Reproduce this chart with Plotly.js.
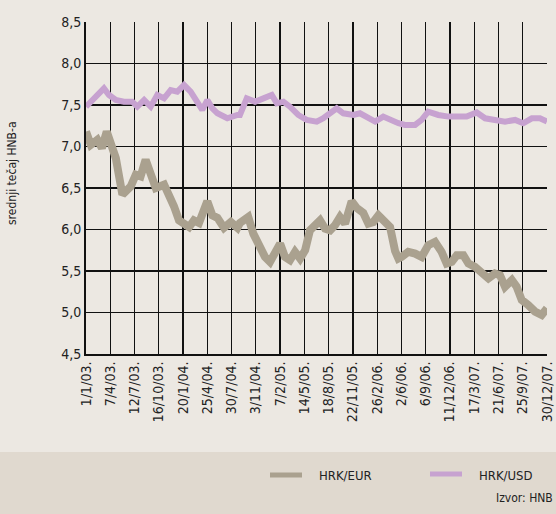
<!DOCTYPE html>
<html>
<head>
<meta charset="utf-8">
<script src="https://cdn.plot.ly/plotly-3.0.1.min.js"></script>
<style>
html,body{margin:0;padding:0;background:#ece8e2;}
#chart{width:556px;height:514px;}
</style>
</head>
<body>
<div id="chart"></div>
<script>
// day offsets from 1/1/2003
var eurDays = [0,19,45,63,82,98,118,131,144,157,177,197,216,236,256,276,309,328,348,368,388,408,427,447,480,500,520,546,573,599,609,642,662,689,708,728,748,768,787,807,827,847,867,886,906,926,946,966,985,1005,1025,1051,1071,1097,1117,1137,1157,1176,1203,1223,1236,1249,1275,1302,1328,1354,1381,1407,1427,1447,1467,1493,1513,1539,1566,1592,1618,1638,1658,1685,1704,1724,1750,1777,1803,1824];
var eurValues = [7.18,7.02,7.08,6.98,7.18,7.06,6.86,6.64,6.42,6.46,6.52,6.66,6.64,6.84,6.64,6.50,6.54,6.42,6.28,6.11,6.07,6.03,6.11,6.08,6.34,6.17,6.14,6.02,6.09,6.02,6.08,6.15,5.95,5.79,5.67,5.61,5.73,5.83,5.67,5.63,5.73,5.65,5.75,5.99,6.05,6.11,6.01,5.99,6.05,6.15,6.07,6.34,6.26,6.20,6.07,6.09,6.17,6.11,6.03,5.74,5.65,5.67,5.73,5.71,5.67,5.81,5.85,5.73,5.59,5.61,5.69,5.69,5.59,5.55,5.49,5.41,5.47,5.45,5.31,5.39,5.31,5.15,5.09,5.01,4.97,5.05];
var usdDays = [0,32,71,91,118,150,183,203,230,256,282,309,335,361,388,414,440,460,480,500,520,559,599,609,636,669,702,735,755,781,807,840,873,913,939,966,992,1018,1058,1084,1111,1144,1176,1203,1236,1262,1302,1328,1354,1394,1434,1473,1506,1546,1579,1618,1658,1698,1730,1764,1796,1824];
var usdValues = [7.48,7.58,7.70,7.62,7.56,7.54,7.54,7.48,7.56,7.48,7.62,7.58,7.68,7.66,7.74,7.66,7.52,7.44,7.56,7.46,7.40,7.34,7.38,7.38,7.58,7.54,7.58,7.62,7.52,7.54,7.48,7.38,7.32,7.30,7.34,7.40,7.46,7.40,7.38,7.40,7.36,7.30,7.36,7.32,7.28,7.26,7.26,7.32,7.42,7.38,7.36,7.36,7.36,7.41,7.34,7.32,7.30,7.32,7.28,7.34,7.34,7.30];
var tickDays = [0,96,192,288,384,480,576,672,768,864,960,1056,1152,1248,1344,1440,1536,1632,1728,1824];
var tickLabels = ['1/1/03.','7/4/03.','12/7/03.','16/10/03.','20/1/04.','25/4/04.','30/7/04.','3/11/04.','7/2/05.','14/5/05.','18/8/05.','22/11/05.','26/2/06.','2/6/06.','6/9/06.','11/12/06.','17/3/07.','21/6/07.','25/9/07.','30/12/07.'];
var seriesNames = ['HRK/EUR','HRK/USD'];
var yTicks = [4.5,5.0,5.5,6.0,6.5,7.0,7.5,8.0,8.5];

var FONT = "DejaVu Sans Condensed, DejaVu Sans, sans-serif";
var eurColor = '#aaa18f', usdColor = '#c7a2d0';

var traces = [
  {x: usdDays, y: usdValues, name: seriesNames[1], mode:'lines', line:{color:usdColor, width:6}, showlegend:false, hoverinfo:'skip'},
  {x: eurDays, y: eurValues, name: seriesNames[0], mode:'lines', line:{color:eurColor, width:8}, showlegend:false, hoverinfo:'skip'}
];

var W = 461, H = 332; // plot size in px
function px(dx){return dx/W;}
function py(dy){return dy/H;}

var layout = {
  width:556, height:514,
  margin:{l:86, r:9, t:22, b:160},
  paper_bgcolor:'#ece8e2', plot_bgcolor:'#ece8e2',
  separators:', ',
  font:{family:FONT, size:14, color:'#222'},
  xaxis:{range:[0,1824], tickvals:tickDays, ticktext:tickLabels, tickangle:-90,
         showgrid:true, gridcolor:'#111', gridwidth:1.3, zeroline:false,
         showline:true, linecolor:'#111', linewidth:2, ticks:'', fixedrange:true,
         tickfont:{family:FONT, size:14, color:'#222'}},
  yaxis:{range:[4.5,8.5], tickvals:yTicks, tickformat:'.1f',
         showgrid:true, gridcolor:'#111', gridwidth:1.3, zeroline:false,
         showline:true, linecolor:'#111', linewidth:2, ticks:'', fixedrange:true,
         tickfont:{family:FONT, size:14, color:'#222'}},
  shapes:[
    {type:'rect', xref:'paper', yref:'paper', x0:px(-86), x1:1+px(9), y0:py(-160), y1:py(-98), fillcolor:'#e0d9cf', line:{width:0}, layer:'below'},
    {type:'line', xref:'paper', yref:'paper', x0:px(270-86), x1:px(302-86), y0:py(354-475), y1:py(354-475), line:{color:eurColor, width:5}},
    {type:'line', xref:'paper', yref:'paper', x0:px(430-86), x1:px(462-86), y0:py(354-474), y1:py(354-474), line:{color:usdColor, width:5}}
  ],
  annotations:[
    {text:'srednji tečaj HNB-a', xref:'paper', yref:'paper', x:px(12-86), y:py(354-173), textangle:-90, showarrow:false, xanchor:'center', yanchor:'middle', font:{family:FONT, size:12, color:'#222'}},
    {text:seriesNames[0], xref:'paper', yref:'paper', x:px(317-86), y:py(354-475), showarrow:false, xanchor:'left', yanchor:'middle', font:{family:FONT, size:13, color:'#222'}},
    {text:seriesNames[1], xref:'paper', yref:'paper', x:px(477-86), y:py(354-475), showarrow:false, xanchor:'left', yanchor:'middle', font:{family:FONT, size:13, color:'#222'}},
    {text:'Izvor: HNB', xref:'paper', yref:'paper', x:px(555-86), y:py(354-498), showarrow:false, xanchor:'right', yanchor:'middle', font:{family:FONT, size:12, color:'#222'}}
  ]
};

Plotly.newPlot('chart', traces, layout, {displayModeBar:false, staticPlot:true});
</script>
</body>
</html>
